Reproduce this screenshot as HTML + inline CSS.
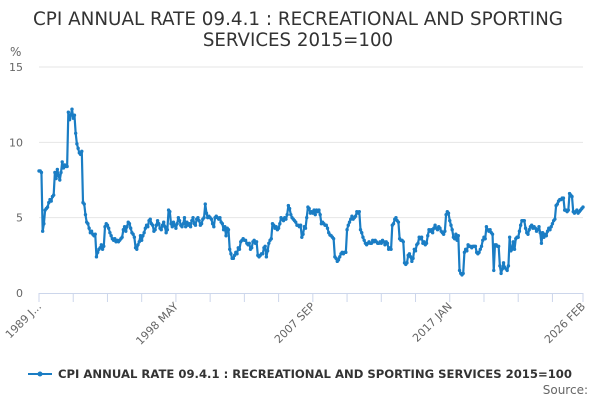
<!DOCTYPE html>
<html><head><meta charset="utf-8"><style>
body{margin:0;background:#fff;font-family:"DejaVu Sans","Liberation Sans",sans-serif}
svg{display:block;font-family:"DejaVu Sans","Liberation Sans",sans-serif}
</style></head><body>
<svg id="chart" width="600" height="400" xmlns="http://www.w3.org/2000/svg">
<text x="298" y="25" text-anchor="middle" font-size="18.2" textLength="530" lengthAdjust="spacingAndGlyphs" fill="#333">CPI ANNUAL RATE 09.4.1 : RECREATIONAL AND SPORTING</text>
<text x="298" y="46" text-anchor="middle" font-size="18.2" fill="#333">SERVICES 2015=100</text>
<text x="10" y="56" font-size="12" fill="#666">%</text>
<g id="grid"></g><g id="xaxis"></g><g id="series"></g>
<g>
<line x1="28" y1="374" x2="52" y2="374" stroke="#1a7dc4" stroke-width="2"/>
<circle cx="40" cy="374" r="2.5" fill="#1a7dc4"/>
<text x="58" y="378" font-size="11.65" font-weight="bold" textLength="514" lengthAdjust="spacingAndGlyphs" fill="#333">CPI ANNUAL RATE 09.4.1 : RECREATIONAL AND SPORTING SERVICES 2015=100</text>
</g>
<text x="588" y="394" text-anchor="end" font-size="12" fill="#666">Source:</text>
</svg>
<script>
const yTicks=[0,5,10,15];
const xLabels=["1989 J...","1998 MAY","2007 SEP","2017 JAN","2026 FEB"];
const xLabelIdx=[0,112,224,336,445];
const values=[
8.1,8.1,8.0,4.1,4.6,5.5,5.6,5.7,6.0,6.2,6.1,6.4,
6.5,8.0,7.6,8.2,7.8,7.5,8.0,8.7,8.3,8.5,8.4,8.4,
12.0,11.5,11.8,12.2,11.6,11.8,10.6,9.9,9.6,9.3,9.2,9.4,
6.0,5.9,5.2,4.7,4.6,4.3,4.0,4.1,3.9,3.8,3.9,2.4,
2.7,2.9,3.0,3.2,2.9,3.1,4.4,4.6,4.5,4.3,4.0,3.8,
3.6,3.5,3.6,3.4,3.5,3.4,3.5,3.6,3.7,4.2,4.4,4.1,
4.4,4.7,4.6,4.3,4.0,3.9,3.7,3.0,2.9,3.2,3.4,3.8,
3.5,3.8,4.0,4.3,4.5,4.4,4.8,4.9,4.6,4.5,4.1,4.2,
4.5,4.8,4.6,4.3,4.2,4.5,4.7,4.4,4.0,4.2,5.5,5.4,
4.6,4.4,4.7,4.5,4.3,4.6,5.0,4.8,4.5,4.4,4.6,5.0,
4.4,4.7,4.5,4.6,4.4,4.8,5.0,4.6,4.5,4.9,5.0,4.8,
4.5,4.6,4.9,5.0,5.9,5.3,5.0,5.1,5.0,4.9,4.6,4.4,
5.0,5.1,5.0,4.9,5.0,4.7,4.6,4.2,4.4,3.8,4.3,4.2,
2.9,2.6,2.3,2.3,2.5,2.7,2.6,3.0,2.9,3.4,3.5,3.6,
3.5,3.5,3.3,3.2,3.3,2.9,3.0,3.4,3.5,3.3,3.4,2.5,
2.4,2.5,2.6,2.6,3.0,3.1,2.4,2.8,3.3,3.5,3.6,4.6,
4.5,4.3,4.4,4.2,4.3,4.6,5.0,4.9,4.8,5.0,4.9,5.2,
5.8,5.6,5.2,5.0,4.9,4.8,4.7,4.5,4.5,4.4,4.5,3.7,
3.9,4.4,4.3,5.0,5.7,5.6,5.3,5.4,5.3,5.5,5.2,5.5,
5.4,5.5,5.2,4.6,4.7,4.6,4.5,4.5,4.3,4.0,3.85,3.8,
3.7,3.6,2.4,2.3,2.1,2.2,2.4,2.6,2.7,2.6,2.7,2.7,
4.2,4.5,4.7,4.9,5.1,4.9,5.0,5.1,5.4,5.3,5.4,4.2,
4.0,3.7,3.5,3.3,3.2,3.3,3.4,3.3,3.3,3.5,3.4,3.5,
3.4,3.3,3.3,3.4,3.3,3.5,3.4,3.2,3.4,3.3,2.9,3.0,
2.9,4.5,4.6,4.9,5.0,4.8,4.7,3.6,3.5,3.5,3.4,2.0,
1.9,2.0,2.5,2.6,2.4,2.1,2.3,2.9,2.8,3.2,3.3,3.7,
3.6,3.7,3.3,3.4,3.2,3.3,3.8,4.2,4.1,4.2,4.0,4.3,
4.5,4.3,4.2,4.4,4.3,4.1,4.0,3.9,4.1,5.2,5.4,5.3,
4.8,4.5,4.2,3.7,3.6,3.9,3.5,3.8,1.5,1.3,1.2,1.3,
2.7,2.9,2.8,3.2,3.1,3.1,3.0,3.1,3.1,3.1,2.7,2.6,
2.7,2.9,3.1,3.5,3.7,3.6,4.4,4.2,4.1,4.2,4.0,3.9,
1.5,3.2,3.2,3.1,3.1,1.8,1.3,1.6,2.0,1.7,1.6,1.5,
1.8,3.7,2.8,2.9,3.4,2.9,3.6,3.7,3.7,4.1,4.5,4.8,
4.8,4.8,4.3,4.0,3.9,4.2,4.4,4.5,4.3,4.4,4.3,4.1,
4.2,4.4,4.0,3.3,4.0,3.7,3.9,3.8,4.1,4.3,4.2,4.4,
4.6,4.8,4.9,5.8,5.9,6.1,6.2,6.2,6.3,6.3,5.5,5.5,
5.4,5.5,6.6,6.5,6.4,5.4,5.3,5.4,5.5,5.3,5.4,5.5,
5.6,5.7];
const NS="http://www.w3.org/2000/svg";
const X0=39,X1=583,Y0=293,Y15=67;
const n=values.length;
function xs(i){return X0+(X1-X0)*i/(n-1);}
function ys(v){return Y0-(Y0-Y15)*v/15;}
function mk(t,a,p){const e=document.createElementNS(NS,t);for(const k in a)e.setAttribute(k,a[k]);p.appendChild(e);return e;}
const grid=document.getElementById('grid');
yTicks.forEach(v=>{
 if(v>0){const l=mk('line',{x1:X0,x2:X1,y1:ys(v),y2:ys(v),stroke:'#e6e6e6','stroke-width':1},grid);
 
 }
 const t=mk('text',{x:23,y:ys(v)+4,'text-anchor':'end','font-size':11,fill:'#666'},grid);
 t.textContent=v;
 
 
});
const xa=document.getElementById('xaxis');
const axl=mk('line',{x1:X0,x2:X1,y1:Y0+0.5,y2:Y0+0.5,stroke:'#ccd6eb','stroke-width':1},xa);


const tickIdx=[];for(let i=0;i<n;i+=28)tickIdx.push(i);tickIdx.push(n-1);
tickIdx.forEach(i=>{
 const l=mk('line',{x1:xs(i),x2:xs(i),y1:Y0,y2:Y0+9,stroke:'#ccd6eb','stroke-width':1},xa);
 
 
});
xLabels.forEach((s,k)=>{
 const x=xs(xLabelIdx[k]);
 const t=mk('text',{x:x+3,y:Y0+14,'text-anchor':'end','font-size':11,fill:'#666',transform:`rotate(-45 ${x+3} ${Y0+14})`},xa);
 t.textContent=s;
 
 
});
const sg=document.getElementById('series');
const pts=values.map((v,i)=>xs(i).toFixed(2)+','+ys(v).toFixed(2)).join(' ');
const pl=mk('polyline',{points:pts,fill:'none',stroke:'#1a7dc4','stroke-width':2.2,'stroke-linejoin':'round'},sg);


values.forEach((v,i)=>{
 const c=mk('circle',{cx:xs(i),cy:ys(v),r:1.7,fill:'#1a7dc4'},sg);
 
 
});
</script>
</body></html>
